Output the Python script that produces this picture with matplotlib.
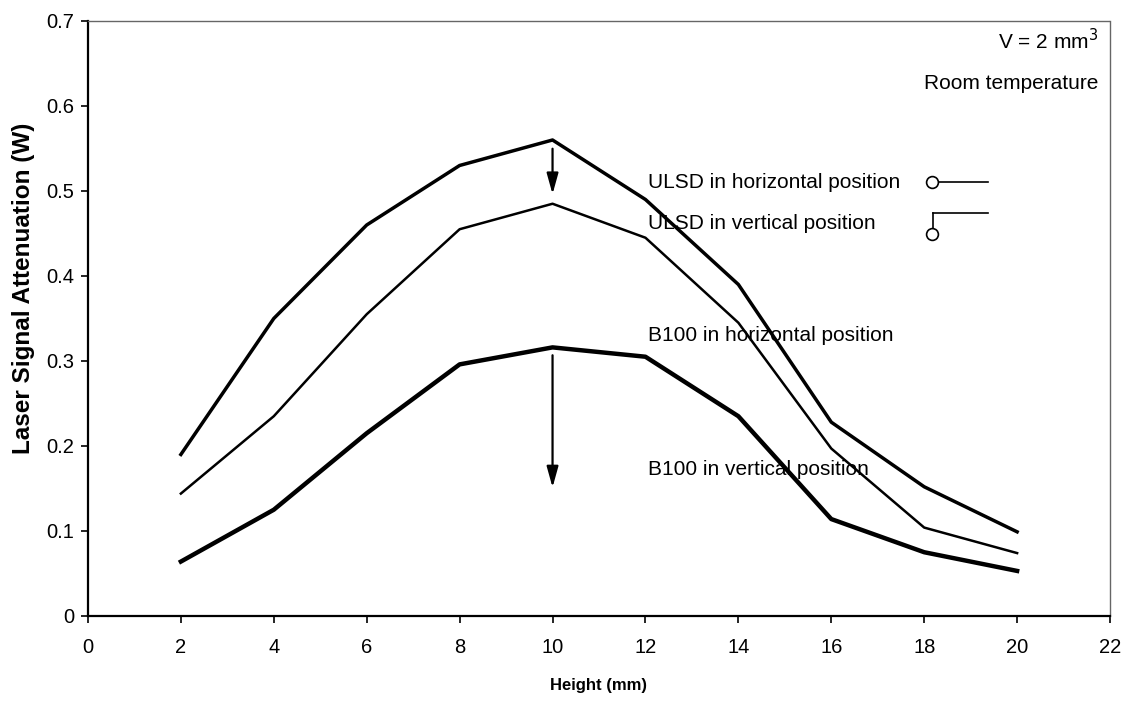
import numpy as np
import matplotlib
matplotlib.use("Agg")
import matplotlib.pyplot as plt

plt.rcParams['font.family'] = ['Liberation Sans', 'DejaVu Sans']

# Data
height = [2, 4, 6, 8, 10, 12, 14, 16, 18, 20]
ulsd_horizontal = [0.19, 0.35, 0.46, 0.53, 0.56, 0.49, 0.39, 0.228, 0.152, 0.099]
ulsd_vertical = [0.144, 0.235, 0.355, 0.455, 0.485, 0.445, 0.345, 0.197, 0.104, 0.074]
b100_horizontal = [0.064, 0.125, 0.215, 0.296, 0.316, 0.305, 0.235, 0.114, 0.075, 0.053]

xticks = list(range(0, 24, 2))
yticks = [0, 0.1, 0.2, 0.3, 0.4, 0.5, 0.6, 0.7]
ytick_labels = ["0", "0.1", "0.2", "0.3", "0.4", "0.5", "0.6", "0.7"]

fig = plt.figure(figsize=(11.32, 7.09), dpi=100)
ax = fig.add_axes([0.0777, 0.1312, 0.9029, 0.8392])

ax.plot(height, ulsd_horizontal, color='black', lw=2.5)
ax.plot(height, ulsd_vertical, color='black', lw=1.8)
ax.plot(height, b100_horizontal, color='black', lw=3.2)

ax.set_xlim(0, 22)
ax.set_ylim(0, 0.7)
ax.set_xticks(xticks)
ax.set_yticks(yticks)
ax.set_yticklabels(ytick_labels)
ax.tick_params(direction='out', length=5, width=1.2, labelsize=14.5, pad=5)
ax.tick_params(axis='x', pad=11)

for s in ['left', 'bottom']:
    ax.spines[s].set_linewidth(1.6)
for s in ['top', 'right']:
    ax.spines[s].set_linewidth(1.0)
    ax.spines[s].set_color('#666666')
    ax.spines[s].set_linestyle((0, (1, 1)))

ax.set_xlabel("Height (mm)", fontsize=12, fontweight='bold', labelpad=15)
ax.set_ylabel("Laser Signal Attenuation (W)", fontsize=17.5, fontweight='bold')
ax.yaxis.set_label_coords(-0.052, 0.55)

# arrows at the peak
ax.annotate("", xy=(10, 0.493), xytext=(10, 0.553),
            arrowprops=dict(arrowstyle='-|>,head_length=0.9,head_width=0.25',
                            color='black', lw=1.6, mutation_scale=14))
ax.annotate("", xy=(10, 0.148), xytext=(10, 0.31),
            arrowprops=dict(arrowstyle='-|>,head_length=0.9,head_width=0.25',
                            color='black', lw=1.6, mutation_scale=14))

# annotations
fs = 15
ax.text(12.05, 0.51, "ULSD in horizontal position", fontsize=fs, va='center', ha='left')
ax.text(12.05, 0.462, "ULSD in vertical position", fontsize=fs, va='center', ha='left')
ax.text(12.05, 0.33, "B100 in horizontal position", fontsize=fs, va='center', ha='left')
ax.text(12.05, 0.172, "B100 in vertical position", fontsize=fs, va='center', ha='left')
ax.text(21.75, 0.677, "V = 2 mm$^3$", fontsize=fs, va='center', ha='right')
ax.text(21.75, 0.627, "Room temperature", fontsize=fs, va='center', ha='right')

# little position symbols
ax.plot([18.28, 19.38], [0.510, 0.510], color='black', lw=1.2)
ax.plot([18.16], [0.510], marker='o', ms=8.5, mfc='white', mec='black', mew=1.2)
ax.plot([18.2, 19.38], [0.4745, 0.4745], color='black', lw=1.2)
ax.plot([18.2, 18.2], [0.4745, 0.456], color='black', lw=1.2)
ax.plot([18.17], [0.449], marker='o', ms=8.5, mfc='white', mec='black', mew=1.2)

fig.savefig("out.png", dpi=100)
